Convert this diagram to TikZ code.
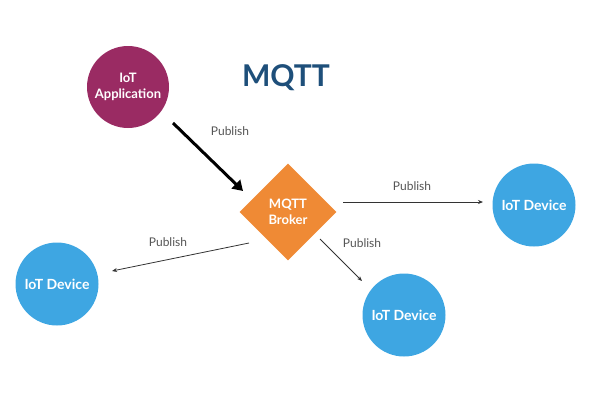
\documentclass[tikz,border=0pt]{standalone}
\usepackage{fontspec}
\setmainfont{Lato}
\usetikzlibrary{arrows.meta,shapes.geometric}
\definecolor{appc}{HTML}{9A2B63}
\definecolor{devc}{HTML}{3EA6E2}
\definecolor{brokc}{HTML}{EF8A35}
\definecolor{titlec}{HTML}{1E4F7A}
\definecolor{lblc}{HTML}{555555}
\tikzset{
  devnode/.style={circle,fill=devc,minimum size=83pt,inner sep=0pt,text=white,font=\fontsize{14}{16}\selectfont\bfseries,align=center},
  appnode/.style={circle,fill=appc,minimum size=82pt,inner sep=0pt,text=white,font=\fontsize{13}{16}\selectfont\bfseries,align=center},
  broknode/.style={diamond,fill=brokc,minimum width=97pt,minimum height=97pt,inner sep=0pt,text=white,font=\fontsize{13}{16}\selectfont\bfseries,align=center},
  lbl/.style={text=lblc,font=\fontsize{12}{14}\selectfont},
  thin arrow/.style={draw=black!80,line width=0.8pt,-{Stealth[length=5pt,width=4pt]}},
  thick arrow/.style={draw=black,line width=3pt,-{Triangle[length=10pt,width=12pt]}}
}
\begin{document}
\begin{tikzpicture}[x=1pt,y=-1pt]
\useasboundingbox (0,0) rectangle (600,400);
\node[appnode] (app) at (128,87) {IoT\\Application};
\node[font=\fontsize{30}{32}\selectfont\bfseries,text=titlec] (title) at (286,78) {MQTT};
\node[broknode] (broker) at (288,212) {MQTT\\Broker};
\node[devnode] (devR) at (534,205) {IoT Device};
\node[devnode] (devL) at (57,284) {IoT Device};
\node[devnode] (devB) at (404,315) {IoT Device};
\coordinate (a1) at (173,123);
\coordinate (a2) at (243,191);
\draw[thick arrow] (a1) -- (a2);
\node[lbl] (p1) at (230,131) {Publish};
\coordinate (r1) at (343,202);
\coordinate (r2) at (483,202);
\draw[thin arrow] (r1) -- (r2);
\node[lbl] (p2) at (412,186) {Publish};
\coordinate (l1) at (249,243);
\coordinate (l2) at (112,271);
\draw[thin arrow] (l1) -- (l2);
\node[lbl] (p3) at (168,242) {Publish};
\coordinate (b1) at (320,239);
\coordinate (b2) at (362,281);
\draw[thin arrow] (b1) -- (b2);
\node[lbl] (p4) at (362,243) {Publish};
\end{tikzpicture}
\end{document}
